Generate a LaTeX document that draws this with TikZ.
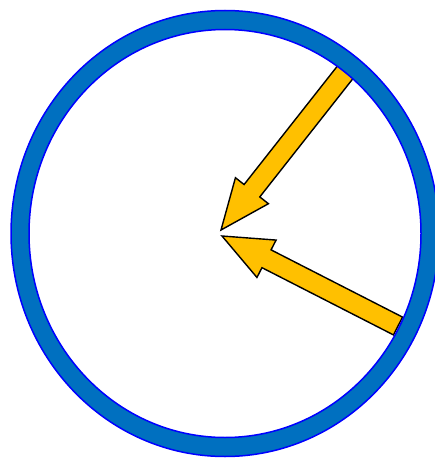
\documentclass[tikz,border=0pt]{standalone}
\usetikzlibrary{calc}

\definecolor{ringblue}{HTML}{0070C0}
\definecolor{arrowgold}{HTML}{FFC000}

\tikzset{
  blockarrow/.style={fill=arrowgold, draw=black, line width=1.4pt, line join=miter},
  ringedge/.style={draw=blue, line width=1.5pt},
}

% block arrow from tail #2 to tip #1
\newcommand\goldarrow[2]{%
  \draw[blockarrow]
    (#1) -- ($($(#1)!50pt!(#2)$)!21pt!90:(#1)$)
         -- ($($(#1)!50pt!(#2)$)!10pt!90:(#1)$)
         -- ($(#2)!10pt!90:(#1)$)
         -- ($(#2)!10pt!-90:(#1)$)
         -- ($($(#1)!50pt!(#2)$)!10pt!-90:(#1)$)
         -- ($($(#1)!50pt!(#2)$)!21pt!-90:(#1)$)
         -- cycle;}

\begin{document}
\begin{tikzpicture}[x=1pt,y=-1pt]
    \useasboundingbox (0,0) rectangle (435,460);
    \clip (0,0) rectangle (435,460);

    \coordinate (C) at (225,233.5);

    \coordinate (tipA) at (221,230);
    \coordinate (tailA) at (347,70);
    \coordinate (tipB) at (222,236);
    \coordinate (tailB) at (398,326);

    \goldarrow{tipA}{tailA}
    \goldarrow{tipB}{tailB}

    % ring
    \fill[ringblue, even odd rule] (C) ellipse [x radius=214, y radius=223]
                                   (C) ellipse [x radius=196, y radius=204];
    \draw[ringedge] (C) ellipse [x radius=214, y radius=223];
    \draw[ringedge] (C) ellipse [x radius=196, y radius=204];

\end{tikzpicture}
\end{document}
